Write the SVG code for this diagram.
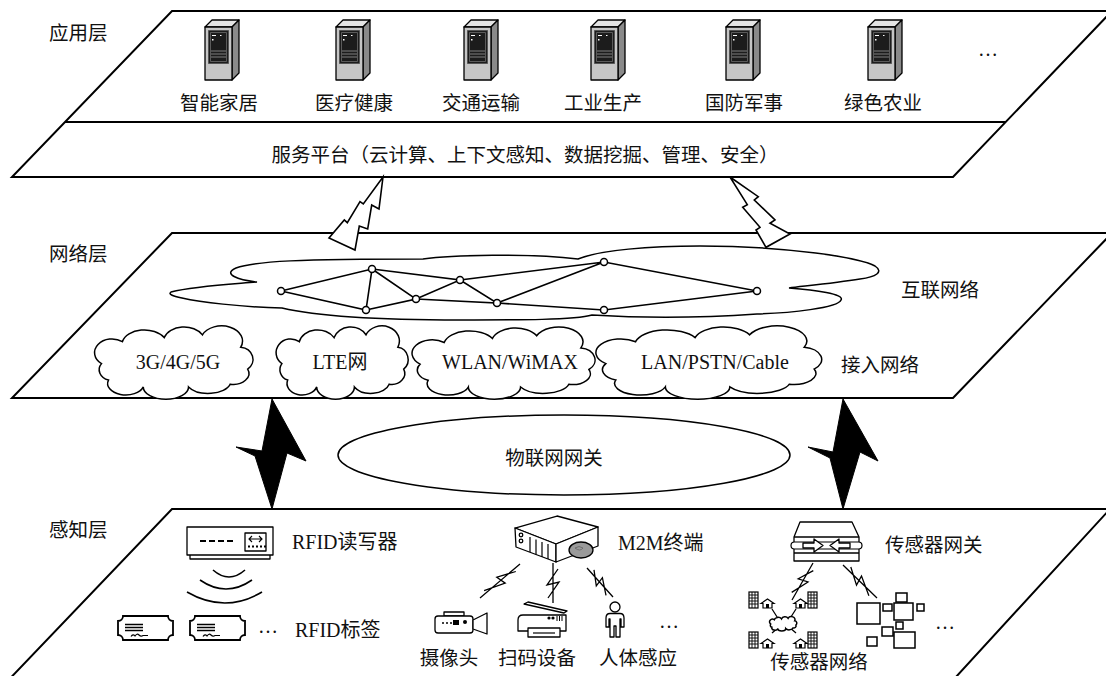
<svg xmlns="http://www.w3.org/2000/svg" width="1106" height="676" viewBox="0 0 1106 676">
<style>
  .layer{fill:#fff;stroke:#000;stroke-width:2;stroke-linejoin:miter}
  .ln{fill:none;stroke:#000;stroke-width:1.6}
  .cl{fill:#fff;stroke:#000;stroke-width:1.5}
  .ic{fill:#fff;stroke:#000;stroke-width:1.3;stroke-linejoin:round}
  .bolt{fill:#fff;stroke:#000;stroke-width:1.6;stroke-linejoin:miter}
  .sbolt{fill:#000;stroke:#000;stroke-width:1}
  .t{font-family:"Liberation Serif","Noto Sans CJK SC",serif;font-size:20px;fill:#111}
  .k{font-family:"Liberation Serif","Noto Sans CJK SC",serif;font-size:19.5px;fill:#111}
  .nd{fill:#fff;stroke:#000;stroke-width:1.5}
</style>
<defs>
  <!-- generic cloud outline in a 100 x 50 box -->
  <path id="cloud" vector-effect="non-scaling-stroke" d="M8,26 A9 9 0 0 1 20,10 A13 11 0 0 1 44,7 A12 11 0 0 1 66,5 A12 11 0 0 1 88,14 A8 9 0 0 1 92,30 A9 8 0 0 1 82,41 A13 9 0 0 1 58,43 A13 9 0 0 1 32,43 A10 8 0 0 1 12,38 A8 8 0 0 1 8,26 Z"/>
  <!-- tower server -->
  <g id="srv" stroke="#000" stroke-width="1.3" stroke-linejoin="round">
    <polygon points="0,7 7,0 34,0 27,7" fill="#e4e4e4"/>
    <polygon points="27,7 34,0 34,53 27,60" fill="#8a8a8a"/>
    <rect x="0" y="7" width="27" height="53" fill="#c6c6c6"/>
    <rect x="3.5" y="10.5" width="20" height="33" fill="#1c1c1c" stroke="#555" stroke-width="1"/>
    <rect x="5.5" y="12.5" width="16" height="29" fill="none" stroke="#777" stroke-width="0.7"/>
    <line x1="7" y1="15.5" x2="11" y2="15.5" stroke="#fff" stroke-width="1"/>
    <line x1="15" y1="15.5" x2="16.5" y2="15.5" stroke="#fff" stroke-width="1"/>
    <rect x="7" y="19" width="1.5" height="1.5" fill="#fff" stroke="none"/>
    <path d="M6,31 H21 M6,34 H21 M6,37 H21" stroke="#999" stroke-width="0.8"/>
  </g>
  <!-- RFID tag -->
  <g id="tag">
    <path d="M5,0 H50 A5 5 0 0 0 55,5 V19 A5 5 0 0 0 50,24 H5 A5 5 0 0 0 0,19 V5 A5 5 0 0 0 5,0 Z" fill="#fff" stroke="#000" stroke-width="1.8"/>
    <path d="M7,8.5 H25 M7,11.5 H25 M7,14.5 H25" stroke="#000" stroke-width="1.3"/>
    <path d="M13,20.5 q2,-3 4,-0.5 q2,-3 4,-1 q2,2 4,0.5 h5" fill="none" stroke="#000" stroke-width="1.2"/>
  </g>
  <!-- building and house used in the sensor network -->
  <g id="bld">
    <rect x="0" y="0" width="9" height="16" fill="#fff" stroke="#000" stroke-width="1.2"/>
    <path d="M0,3H9M0,6H9M0,9H9M0,12H9M3,0V16M6,0V16" stroke="#000" stroke-width="0.9"/>
  </g>
  <g id="hs">
    <path d="M0,4.5 L6.5,0 L13,4.5 H11 V9 H2 V4.5 Z" fill="#fff" stroke="#000" stroke-width="1.2"/>
    <rect x="5" y="5" width="3" height="4" fill="#000"/>
  </g>
</defs>

<!-- three layer planes -->
<g id="application-layer">
  <polygon class="layer" points="172,11 1112,11 953,177 12,177"/>
  <line x1="65" y1="122" x2="1006" y2="122" stroke="#000" stroke-width="2"/>
  <text class="k" x="49" y="40">应用层</text>
  <use href="#srv" x="205" y="20"/>
  <use href="#srv" x="336" y="20"/>
  <use href="#srv" x="464" y="20"/>
  <use href="#srv" x="591" y="20"/>
  <use href="#srv" x="726" y="20"/>
  <use href="#srv" x="868" y="20"/>
  <text class="k" x="219" y="110" text-anchor="middle">智能家居</text>
  <text class="k" x="354" y="110" text-anchor="middle">医疗健康</text>
  <text class="k" x="481" y="110" text-anchor="middle">交通运输</text>
  <text class="k" x="603" y="110" text-anchor="middle">工业生产</text>
  <text class="k" x="744" y="110" text-anchor="middle">国防军事</text>
  <text class="k" x="883" y="110" text-anchor="middle">绿色农业</text>
  <text class="t" x="988" y="56" text-anchor="middle">…</text>
  <text class="k" x="525" y="162" text-anchor="middle">服务平台（云计算、上下文感知、数据挖掘、管理、安全）</text>
</g>

<g id="network-layer">
  <polygon class="layer" points="172,233 1112,233 953,398 12,398"/>
  <text class="k" x="49" y="261">网络层</text>
  <!-- internet cloud -->
  <path class="cl" d="M171,292 C195,286 235,284 257,282 C238,280 222,274 236,268 C255,261 300,259 423,259 C450,255 530,253 578,259 C600,250 650,246 700,246 C790,246 860,258 875,266 C884,272 876,277 860,279 C835,283 805,286 789,288 C815,290 845,294 841,300 C838,308 790,313 757,314 C700,318 640,318 592,315 C575,320 520,320 460,320 C380,320 320,317 282,308 C240,307 200,302 182,298 C172,296 168,294 171,292 Z"/>
  <g id="backbone" class="ln" stroke-width="1.5">
    <path d="M281,291 L372,269 L366,310 Z M372,269 L416,299 L366,310 M372,269 L460,280 L416,299 L497,303 L460,280 L604,262 L757,291 L604,310 L497,303 L604,262"/>
  </g>
  <g id="backbone-nodes">
    <circle class="nd" cx="281" cy="291" r="3.5"/>
    <circle class="nd" cx="372" cy="269" r="3.5"/>
    <circle class="nd" cx="366" cy="310" r="3.5"/>
    <circle class="nd" cx="416" cy="299" r="3.5"/>
    <circle class="nd" cx="460" cy="280" r="3.5"/>
    <circle class="nd" cx="497" cy="303" r="3.5"/>
    <circle class="nd" cx="604" cy="262" r="3.5"/>
    <circle class="nd" cx="604" cy="310" r="3.5"/>
    <circle class="nd" cx="757" cy="291" r="3.5"/>
  </g>
  <text class="k" x="901" y="297">互联网络</text>
  <!-- access network clouds -->
  <g id="access-3g">
    <use href="#cloud" class="cl" transform="translate(87.6,328) scale(1.74,1.37)"/>
    <text class="t" x="178" y="369" text-anchor="middle">3G/4G/5G</text>
  </g>
  <g id="access-lte">
    <use href="#cloud" class="cl" transform="translate(270.3,328) scale(1.45,1.37)"/>
    <text class="t" x="340" y="369" text-anchor="middle">LTE网</text>
  </g>
  <g id="access-wlan">
    <use href="#cloud" class="cl" transform="translate(404,329) scale(2.01,1.35)"/>
    <text class="t" x="510" y="369" text-anchor="middle">WLAN/WiMAX</text>
  </g>
  <g id="access-lan">
    <use href="#cloud" class="cl" transform="translate(586,328) scale(2.48,1.37)"/>
    <text class="t" x="715" y="369" text-anchor="middle">LAN/PSTN/Cable</text>
  </g>
  <text class="k" x="841" y="372">接入网络</text>
</g>

<g id="perception-layer">
  <polygon class="layer" points="172,509 1110,509 944,690 -1,690"/>
  <text class="k" x="49" y="537">感知层</text>

  <!-- RFID reader with radio waves -->
  <g id="rfid-reader">
    <rect x="190" y="554" width="80" height="5" class="ic"/>
    <rect x="187" y="527" width="86" height="28" class="ic" stroke-width="1.6"/>
    <path d="M200,541 h6 M209,541 h6 M218,541 h6 M227,541 h6" stroke="#000" stroke-width="2"/>
    <rect x="245" y="533" width="21" height="18" class="ic"/>
    <path d="M249,539 H262 M252,536 L249,539 L252,542 M259,536 L262,539 L259,542" fill="none" stroke="#000" stroke-width="1.1"/>
    <path d="M248,546.5 h2 m2,0 h2 m2,0 h2 m2,0 h2 m2,0 h2" stroke="#000" stroke-width="2"/>
    <path d="M213,570 Q229,584 245,570 M200,580 Q226,598 252,580 M187,592 Q225,614 262,592" class="ln" stroke-width="1.5"/>
    <text class="t" x="292" y="549">RFID读写器</text>
  </g>
  <g id="rfid-tags">
    <use href="#tag" x="118" y="616"/>
    <use href="#tag" x="190" y="616"/>
    <text class="t" x="268" y="633" text-anchor="middle">…</text>
    <text class="t" x="295" y="637">RFID标签</text>
  </g>

  <!-- M2M terminal -->
  <g id="m2m-terminal">
    <polygon points="515,528 557,516 598,527 556,544" class="ic" fill="#f2f2f2"/>
    <polygon points="515,528 556,544 556,562 516,547" class="ic"/>
    <polygon points="556,544 598,527 598,546 556,562" class="ic"/>
    <path d="M530,537 V552 M536,539.5 V554.5 M542,542 V557 M548,544 V559" stroke="#000" stroke-width="1.2"/>
    <circle cx="521" cy="535" r="1.8" class="ic"/>
    <circle cx="521" cy="541" r="1.8" class="ic"/>
    <ellipse cx="581" cy="550" rx="12" ry="8" fill="#9a9a9a" stroke="#000" stroke-width="1.3"/>
    <path d="M575,548 q4,-3 8,0 q-3,4 -8,0" fill="none" stroke="#666" stroke-width="0.8"/>
    <text class="t" x="618" y="550">M2M终端</text>
  </g>

  <!-- wireless links below the terminal and the sensor gateway -->
  <g id="wireless-links" fill="none" stroke="#000" stroke-width="1.3" stroke-linejoin="miter">
    <path d="M520,564 L480,598 M515.8,571.5 L496.8,577.2 L505.2,583.1 L484.1,590.6"/>
    <path d="M553,563 L553,603 M558,569 L547,585 L559,582 L548,598"/>
    <path d="M587,568 L613,597 M594,569.8 L596.3,585.8 L602.4,577.7 L606,595.3"/>
    <path d="M813,563 L792,600 M813.3,570.6 L798.2,578.8 L808,582 L791.7,592.4"/>
    <path d="M843,565 L877,598 M850.8,567 L856.5,585.1 L861.5,576 L868.9,595.7"/>
  </g>

  <!-- camera -->
  <g id="camera">
    <rect x="444" y="612" width="20" height="4" class="ic"/>
    <rect x="435" y="616" width="38" height="17" rx="3" class="ic"/>
    <polygon points="473,620 487,613 487,634 473,629" class="ic"/>
    <path d="M442,623 h2 m2,0 h2 m2,0 h2" stroke="#000" stroke-width="1.5"/>
    <rect x="453" y="620" width="6" height="5" fill="#000"/>
    <circle cx="465" cy="622" r="2" fill="#000"/>
    <text class="k" x="449" y="665" text-anchor="middle">摄像头</text>
  </g>
  <!-- scanner -->
  <g id="scanner">
    <polygon points="524,604 528,602 567,611 564,613" class="ic"/>
    <path d="M523,615 H566 V631 H518 V620 Q518,615 523,615 Z" class="ic"/>
    <rect x="528" y="628" width="32" height="9" class="ic"/>
    <line x1="533" y1="633" x2="555" y2="633" stroke="#000" stroke-width="1.2"/>
    <circle cx="549" cy="618" r="1.6" fill="#000"/>
    <circle cx="553" cy="618" r="1.6" fill="#000"/>
    <path d="M557,616 V621 M559.5,616 V621 M562,616 V621" stroke="#000" stroke-width="1"/>
    <text class="k" x="537" y="665" text-anchor="middle">扫码设备</text>
  </g>
  <!-- person -->
  <g id="person">
    <circle cx="615" cy="607" r="5" class="ic"/>
    <path d="M606,627 L606,618 Q606,613.5 610,613.5 L620,613.5 Q624,613.5 624,618 L624,627 L621,627 L621,619 L620,619 L620,637 L616,637 L616,626 L614,626 L614,637 L610,637 L610,619 L609,619 L609,627 Z" class="ic"/>
    <text class="k" x="638" y="665" text-anchor="middle">人体感应</text>
  </g>
  <text class="t" x="669" y="628" text-anchor="middle">…</text>

  <!-- sensor gateway -->
  <g id="sensor-gateway">
    <polygon points="800,522 852,522 859,537 859,561 794,561 794,537" class="ic" stroke-width="1.5"/>
    <path d="M794,537 H859 M794,553 H859" stroke="#000" stroke-width="1.3"/>
    <rect x="791" y="542" width="71" height="7" rx="3.5" fill="#fff" stroke="#000" stroke-width="1.2"/>
    <polygon points="803,543 814,543 814,539 823,545.5 814,552 814,548 803,548" class="ic"/>
    <polygon points="850,543 839,543 839,539 830,545.5 839,552 839,548 850,548" class="ic"/>
    <text class="k" x="885" y="552">传感器网关</text>
  </g>
  <!-- sensor network: buildings around a small cloud -->
  <g id="sensor-network">
    <path d="M772,609 L779,620 M796,609 L789,620 M772,633 L779,627 M796,633 L789,627" stroke="#000" stroke-width="1.3"/>
    <use href="#cloud" class="cl" transform="translate(768.3,617) scale(0.3,0.27)"/>
    <use href="#bld" x="749" y="592"/>
    <use href="#hs" x="761" y="599"/>
    <use href="#hs" x="794" y="599"/>
    <use href="#bld" x="808" y="592"/>
    <use href="#bld" x="749" y="632"/>
    <use href="#hs" x="761" y="639"/>
    <use href="#hs" x="794" y="639"/>
    <use href="#bld" x="808" y="632"/>
    <text class="k" x="819" y="669" text-anchor="middle">传感器网络</text>
  </g>
  <!-- sensor nodes -->
  <g id="sensor-nodes" fill="#fff" stroke="#000" stroke-width="1.5">
    <rect x="857" y="603" width="23" height="21"/>
    <rect x="894" y="603" width="19" height="17"/>
    <rect x="894" y="632" width="21" height="16"/>
    <rect x="896" y="593" width="11" height="9"/>
    <rect x="883" y="604" width="9" height="7"/>
    <rect x="917" y="604" width="7" height="7"/>
    <rect x="896" y="622" width="7" height="7"/>
    <rect x="882" y="627" width="11" height="9"/>
    <rect x="867" y="637" width="10" height="9"/>
  </g>
  <text class="t" x="945" y="629" text-anchor="middle">…</text>
</g>

<!-- gateway between the network and perception layers -->
<g id="iot-gateway">
  <ellipse cx="564" cy="455" rx="226" ry="40" fill="#fff" stroke="#000" stroke-width="1.5"/>
  <text class="k" x="554" y="465" text-anchor="middle">物联网网关</text>
</g>

<!-- links between layers -->
<g id="connectors">
  <polygon class="bolt" points="383,177 379,209 371.7,205 367.7,229 359.3,226 355,250 329,238 344.3,220 347.3,222.7 360,201.7 363.3,204"/>
  <polygon class="bolt" points="730,177 758.3,196.7 754.3,200 775,220 770,223.3 790,234 766,247.3 756,230 760,227.3 742.7,207.3 747.3,204.7"/>
  <polygon class="sbolt" points="272,399 306,461 287,453 272,509 255,456 236,447 262,451"/>
  <polygon class="sbolt" points="843,399 878,461 860,452 843,509 830,458 808,447 833,452"/>
</g>
</svg>
